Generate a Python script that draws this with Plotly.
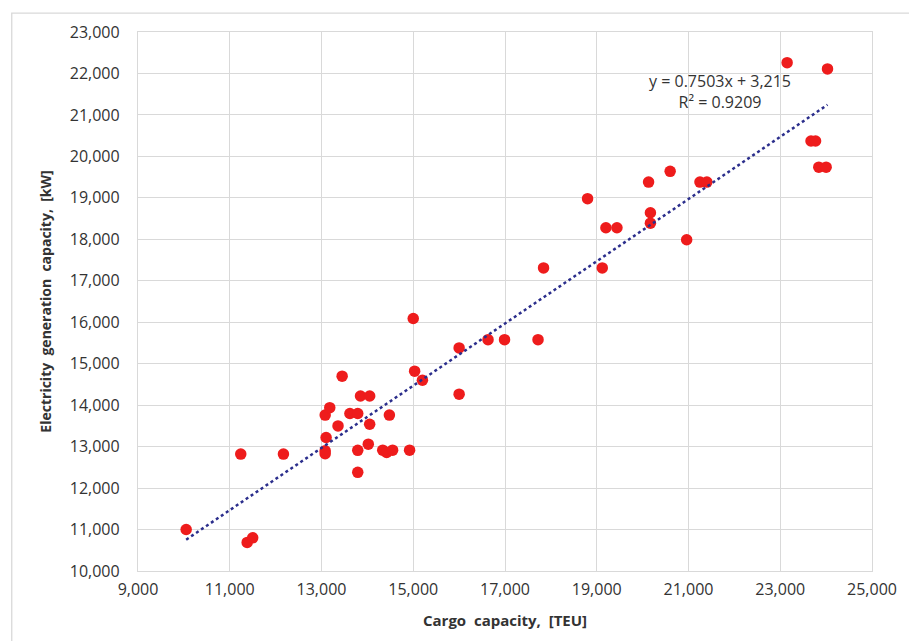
import plotly.graph_objects as go

# Data
cargo_teu = [10050, 11240, 11380, 11500, 12170, 13080, 13080, 13100, 13080, 13180,
             13360, 13450, 13620, 13790, 13790, 13790, 13850, 14020, 14050, 14050,
             14335, 14420, 14480, 14550, 14920, 15000, 15030, 15200, 16000, 16000,
             16630, 16990, 17720, 17840, 18800, 19120, 19200, 19440, 20130, 20170,
             20170, 20600, 20960, 21250, 21400, 23150, 23670, 23770, 23840, 24000,
             24030]
power_kw = [11000, 12820, 10690, 10800, 12820, 12900, 12830, 13220, 13760, 13940,
            13500, 14700, 13800, 13800, 12910, 12380, 14220, 13060, 14220, 13540,
            12915, 12860, 13760, 12915, 12915, 16090, 14820, 14600, 15380, 14265,
            15580, 15580, 15580, 17310, 18980, 17310, 18280, 18280, 19380, 18640,
            18390, 19640, 17990, 19380, 19380, 22260, 20370, 20370, 19740, 19740,
            22110]

slope = 0.7503
intercept = 3215
eq_text = "y = 0.7503x + 3,215<br>R² = 0.9209"

x_ticks = list(range(9000, 25001, 2000))
y_ticks = list(range(10000, 23001, 1000))

trend_x = [min(cargo_teu), max(cargo_teu)]
trend_y = [slope * v + intercept for v in trend_x]

fig = go.Figure()
fig.add_trace(go.Scatter(
    x=cargo_teu, y=power_kw, mode="markers",
    marker=dict(color="#ee1c1c", size=11.5, line=dict(width=0)),
    showlegend=False, hoverinfo="x+y"))
fig.add_trace(go.Scatter(
    x=trend_x, y=trend_y, mode="lines",
    line=dict(color="#2b2e8c", width=2.5, dash="dot"),
    showlegend=False, hoverinfo="skip"))

font_family = "Open Sans"
text_color = "#333333"
axis_common = dict(
    showgrid=True, gridcolor="#d9d9d9", gridwidth=1.3,
    showline=True, linecolor="#d9d9d9", linewidth=1.3,
    zeroline=False, ticks="",
    tickfont=dict(family=font_family, size=16, color=text_color),
    tickformat=",d",
)

fig.update_layout(
    width=909, height=641,
    margin=dict(l=138, r=27, t=32, b=70),
    paper_bgcolor="white", plot_bgcolor="white",
    xaxis=dict(range=[9000, 25000], tickvals=x_ticks, mirror=True,
               ticklabelstandoff=4,
               title=dict(text="<b>Cargo  capacity,  [TEU]</b>",
                          font=dict(family=font_family, size=15, color=text_color),
                          standoff=16),
               **axis_common),
    yaxis=dict(range=[10000, 23000], tickvals=y_ticks, mirror=True,
               ticklabelstandoff=14,
               title=dict(text="<b>Electricity  generation  capacity,  [kW]</b>",
                          font=dict(family=font_family, size=14, color=text_color),
                          standoff=14),
               **axis_common),
    annotations=[dict(
        x=21680, y=21560, xref="x", yref="y", text=eq_text, showarrow=False,
        align="center", font=dict(family=font_family, size=16, color=text_color))],
    shapes=[dict(type="rect", xref="paper", yref="paper",
                 x0=-0.172, x1=1.2, y0=-0.3, y1=1.035,
                 line=dict(color="#d9d9d9", width=1.3), layer="below")],
)

fig.write_html("out.html")
